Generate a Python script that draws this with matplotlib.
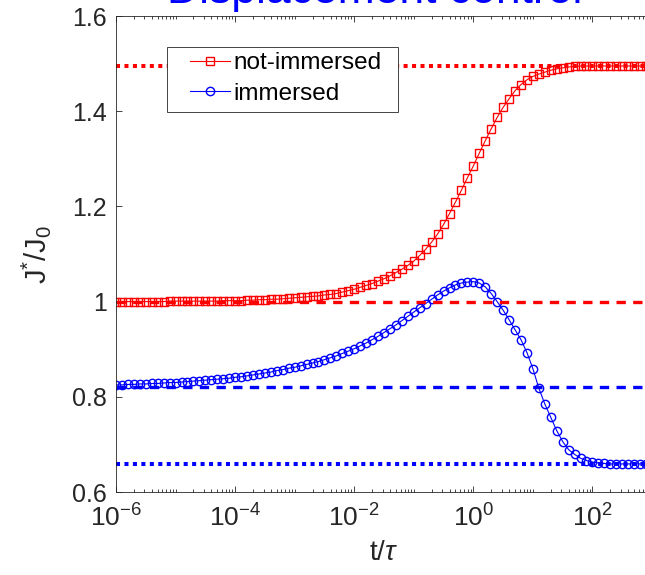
import numpy as np
import matplotlib
matplotlib.use('Agg')
import matplotlib.pyplot as plt
from matplotlib.patches import Rectangle
from matplotlib.ticker import FixedLocator, FixedFormatter, NullFormatter

plt.rcParams['font.family'] = ['Liberation Sans', 'DejaVu Sans']
plt.rcParams['mathtext.fontset'] = 'custom'
plt.rcParams['mathtext.rm'] = 'Liberation Sans'
plt.rcParams['mathtext.it'] = 'Liberation Sans:italic'
plt.rcParams['mathtext.bf'] = 'Liberation Sans:bold'

# ---------------- data ----------------
title = 'Displacement control'
series_labels = ['not-immersed', 'immersed']
log_t = np.linspace(-6, 3, 91)          # log10(t/tau) sample grid
t = 10.0 ** log_t

not_immersed = [
    1.000, 1.000, 1.000, 1.000, 1.000, 1.000, 1.000, 1.000, 1.000,
    1.001, 1.001, 1.001, 1.001, 1.001, 1.001, 1.001, 1.001, 1.001,
    1.002, 1.002, 1.002, 1.002,
    1.003, 1.003, 1.004, 1.004, 1.005, 1.005,
    1.006, 1.007, 1.008, 1.009, 1.010, 1.011, 1.012, 1.014, 1.015, 1.017,
    1.020, 1.023, 1.026, 1.030, 1.034, 1.038, 1.043, 1.048, 1.054, 1.061,
    1.068, 1.076, 1.085, 1.097, 1.110, 1.125, 1.142, 1.162, 1.185, 1.209,
    1.234, 1.260, 1.285, 1.312, 1.338, 1.363, 1.387, 1.408, 1.426, 1.443,
    1.456, 1.466, 1.473, 1.478, 1.482, 1.486, 1.489, 1.491, 1.493, 1.494,
    1.495, 1.495, 1.495, 1.495, 1.495, 1.495, 1.495, 1.495, 1.495, 1.495,
    1.495, 1.495, 1.495,
]

immersed = [
    0.825, 0.825, 0.826, 0.826, 0.827, 0.827, 0.828, 0.828, 0.829, 0.830,
    0.830, 0.831, 0.832, 0.833, 0.834, 0.835, 0.836, 0.837, 0.838, 0.839,
    0.841, 0.842, 0.844, 0.846, 0.848, 0.850, 0.852, 0.855, 0.857, 0.860,
    0.862, 0.865, 0.868, 0.871, 0.874, 0.878, 0.882, 0.886, 0.891, 0.896,
    0.901, 0.907, 0.913, 0.920, 0.927, 0.935, 0.943, 0.951, 0.960, 0.969,
    0.978, 0.987, 0.996, 1.005, 1.014, 1.022, 1.029, 1.035, 1.039, 1.041,
    1.042, 1.039, 1.031, 1.017, 1.000, 0.982, 0.962, 0.941, 0.920, 0.893,
    0.859, 0.818, 0.785, 0.757, 0.729, 0.706, 0.689, 0.679, 0.671, 0.666,
    0.663, 0.661, 0.660, 0.659, 0.659, 0.659, 0.659, 0.659, 0.659, 0.659,
    0.659,
]

# reference (asymptotic) levels
red_dotted = 1.495
red_dashed = 1.0
blue_dashed = 0.82
blue_dotted = 0.659

x_major = [1e-6, 1e-4, 1e-2, 1e0, 1e2]
x_major_labels = [r'$10^{-6}$', r'$10^{-4}$', r'$10^{-2}$', r'$10^{0}$', r'$10^{2}$']
y_ticks = [0.6, 0.8, 1.0, 1.2, 1.4, 1.6]
y_tick_labels = ['0.6', '0.8', '1', '1.2', '1.4', '1.6']

# ---------------- figure ----------------
W, H = 645, 575
fig = plt.figure(figsize=(W / 100, H / 100), dpi=100)
ax = fig.add_axes([116 / W, 1 - 492 / H, 536 / W, 476 / H])

axc = '#262626'
l1, = ax.plot(t, not_immersed, '-', color='red', lw=0.8, marker='s', ms=5.5,
              mfc='none', mec='red', mew=1.0, label=series_labels[0])
l2, = ax.plot(t, immersed, '-', color='blue', lw=0.8, marker='o', ms=6,
              mfc='none', mec='blue', mew=1.0, label=series_labels[1])

ax.axhline(red_dotted, color='red', lw=2.9, ls=(0, (1, 1.1)), dash_capstyle='butt')
ax.axhline(red_dashed, color='red', lw=2.4, ls=(0, (2.8, 2.2)), dash_capstyle='butt')
ax.axhline(blue_dashed, color='blue', lw=2.4, ls=(0, (2.8, 2.2)), dash_capstyle='butt')
ax.axhline(blue_dotted, color='blue', lw=2.9, ls=(0, (1, 1.1)), dash_capstyle='butt')

ax.set_xscale('log')
ax.set_xlim(1e-6, 1e3)
ax.set_ylim(0.6, 1.6)

ax.xaxis.set_major_locator(FixedLocator(x_major))
ax.xaxis.set_major_formatter(FixedFormatter(x_major_labels))
minors = [k * 10.0 ** n for n in range(-6, 3) for k in range(1, 10)
          if not (k == 1 and n % 2 == 0)]
ax.xaxis.set_minor_locator(FixedLocator(minors))
ax.xaxis.set_minor_formatter(NullFormatter())
ax.yaxis.set_major_locator(FixedLocator(y_ticks))
ax.yaxis.set_major_formatter(FixedFormatter(y_tick_labels))

ax.tick_params(which='both', direction='in', top=True, right=True,
               colors=axc, width=0.6)
ax.tick_params(which='major', length=4)
ax.tick_params(which='minor', length=2.2)
ax.tick_params(axis='y', pad=6.5, labelsize=18)
ax.tick_params(axis='x', pad=9, labelsize=19)
for s in ax.spines.values():
    s.set_color(axc)
    s.set_linewidth(0.6)

ax.set_xlabel(r't/$\tau$', fontsize=20, color=axc, labelpad=6)
ax.set_ylabel(r'J$^{*}$/J$_{0}$', fontsize=21, color=axc, labelpad=14)

fig.text(375 / W, 1 - 3 / H, title, color='blue', fontsize=32,
         ha='center', va='baseline')

leg = ax.legend(handles=[l1, l2], loc='upper left',
                bbox_to_anchor=(190 / W, 1 - 52 / H),
                bbox_transform=fig.transFigure, frameon=False,
                fontsize=17.5, borderpad=0, borderaxespad=0,
                handlelength=1.65, handletextpad=0.15, labelspacing=0.36)
for txt in leg.get_texts():
    txt.set_color('black')
leg.set_zorder(6)

ax.add_patch(Rectangle((167 / W, 1 - 112 / H), (398 - 167) / W, 65 / H,
                       transform=fig.transFigure, fill=True,
                       facecolor='white', edgecolor=axc, lw=0.6,
                       zorder=5, clip_on=False))

fig.savefig('out.png', dpi=100)
